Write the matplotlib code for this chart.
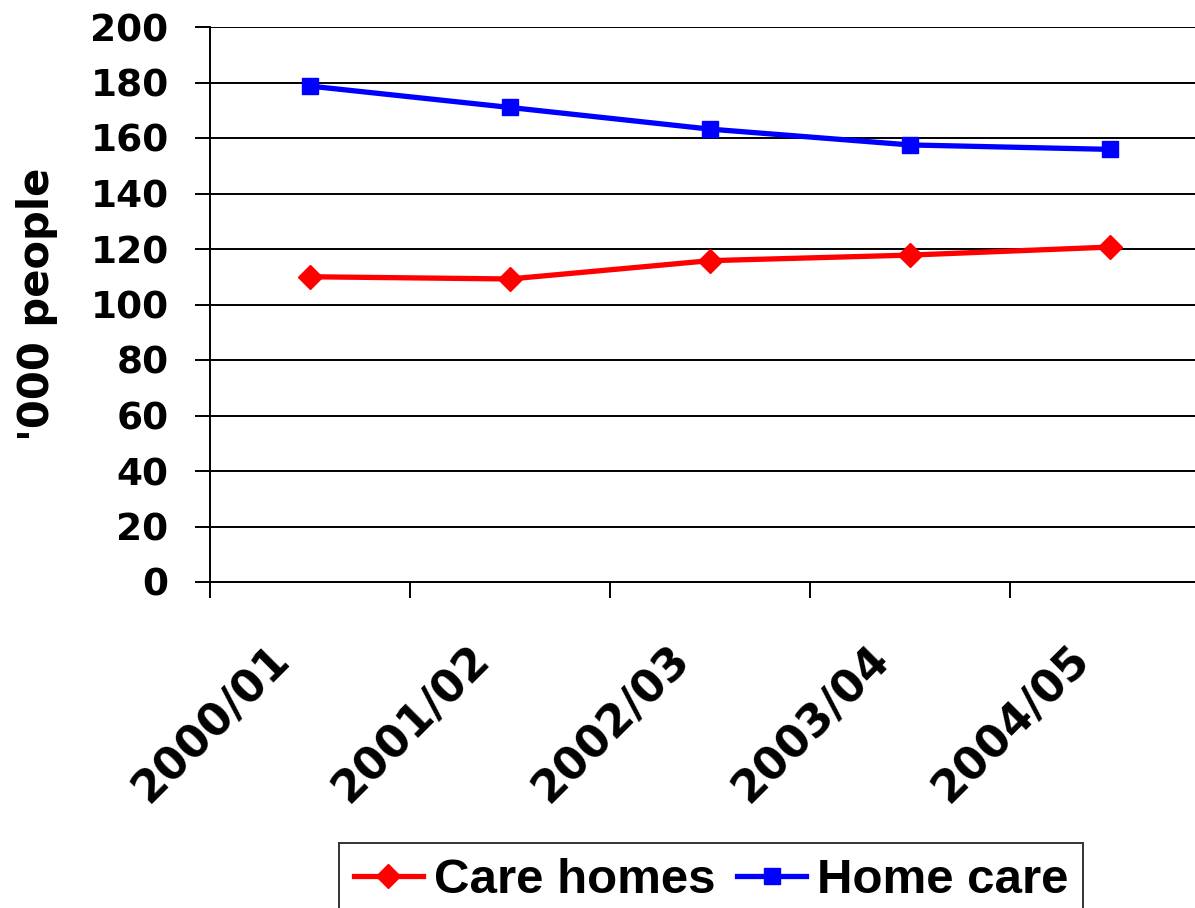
import matplotlib
matplotlib.use("Agg")
import matplotlib.pyplot as plt
import matplotlib.transforms as mtransforms
import numpy as np

# data ('000 people)
years = ["2000/01", "2001/02", "2002/03", "2003/04", "2004/05"]
care_homes = [110.0, 109.2, 115.8, 117.8, 120.7]
home_care = [178.7, 171.0, 163.2, 157.5, 155.9]

plt.rcParams['font.family'] = ['DejaVu Sans']
plt.rcParams['font.weight'] = 'bold'

fig = plt.figure(figsize=(11.95, 9.08), dpi=100)
# plot area runs off the right edge like the original
ax = fig.add_axes([210/1195, 1-582/908, 1000/1195, 555/908])

x = np.arange(len(years))
ax.plot(x, care_homes, color='#ff0000', lw=3.8, marker='D', ms=12.5,
        mec='#ff0000', label='Care homes', zorder=3)
ax.plot(x, home_care, color='#0000ff', lw=3.8, marker='s', ms=11.5,
        mec='#0000ff', label='Home care', zorder=3)

ax.set_xlim(-0.5, 4.5)
ax.set_ylim(0, 200)
ax.set_yticks(np.arange(0, 201, 20))
ax.yaxis.grid(True, color='black', lw=1.4)
ax.set_axisbelow(True)

for s in ['top', 'right']:
    ax.spines[s].set_visible(False)
ax.spines['left'].set_linewidth(1.4)
ax.spines['bottom'].set_linewidth(1.4)

ax.tick_params(axis='y', direction='out', length=10.8, width=1.4,
               pad=19, labelsize=27)
# tick marks sit between categories, labels on the categories
ax.set_xticks(x)
ax.set_xticks(np.arange(-0.5, 4.0, 1.0), minor=True)
ax.tick_params(axis='x', which='major', length=0, pad=40, labelsize=32)
ax.tick_params(axis='x', which='minor', direction='out', length=11.5, width=1.4)
ax.set_xticklabels(years, rotation=45, ha='right', va='top',
                   rotation_mode='anchor')
off = mtransforms.ScaledTranslation(-42/100, 0, fig.dpi_scale_trans)
for lab in ax.get_xticklabels():
    lab.set_transform(lab.get_transform() + off)

ax.set_ylabel("'000 people", fontsize=30, fontweight='bold')
ax.yaxis.set_label_coords(-0.152, 0.5)

leg = fig.legend(loc='upper left', bbox_to_anchor=(339/1195, 1-843/908),
                 ncol=2, frameon=True, fancybox=False, handlelength=1.4,
                 handletextpad=0.22, columnspacing=0.45, borderpad=0.3,
                 borderaxespad=0,
                 prop={'family': 'Liberation Sans', 'weight': 'bold', 'size': 35.5})
leg.get_frame().set_edgecolor('black')
leg.get_frame().set_linewidth(1.4)

fig.savefig("out.png", dpi=100)
